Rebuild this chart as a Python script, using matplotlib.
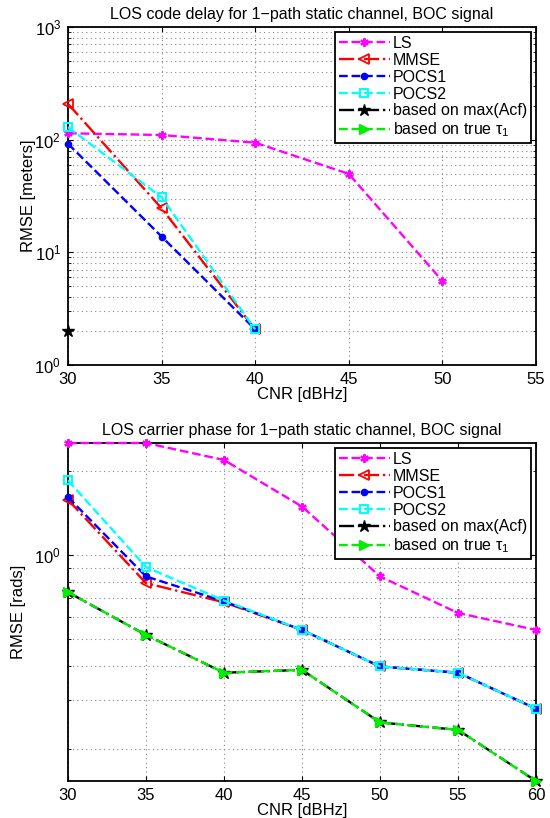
import matplotlib
matplotlib.use("Agg")
import matplotlib.pyplot as plt
from matplotlib.ticker import NullFormatter

plt.rcParams['font.family'] = ['Liberation Sans', 'DejaVu Sans']
plt.rcParams['font.size'] = 11
plt.rcParams['mathtext.fontset'] = 'custom'
plt.rcParams['mathtext.rm'] = 'Liberation Sans'
plt.rcParams['mathtext.it'] = 'Liberation Sans'

# code delay (top)
cnr_top = [30, 35, 40, 45, 50]
ls_top = [114, 110, 94, 49.7, 5.57]
mmse_top = [208, 24.6, 2.07]
pocs1_top = [92, 13.8, 2.07]
pocs2_top = [129, 30.8, 2.07]
acf_top = [2.0]

# carrier phase (bottom)
cnr_bot = [30, 35, 40, 45, 50, 55, 60]
ls_bot = [2.52, 2.52, 2.19, 1.49, 0.836, 0.618, 0.537]
mmse_bot = [1.575, 0.791, 0.675, 0.537, 0.397, 0.377, 0.28]
pocs1_bot = [1.61, 0.836, 0.68, 0.537, 0.397, 0.377, 0.28]
pocs2_bot = [1.85, 0.903, 0.685, 0.537, 0.397, 0.377, 0.28]
acf_bot = [0.734, 0.515, 0.377, 0.386, 0.25, 0.235, 0.154]
true_bot = [0.734, 0.515, 0.377, 0.386, 0.25, 0.235, 0.154]

labels = ['LS', 'MMSE', 'POCS1', 'POCS2', 'based on max(Acf)',
          r'based on true $\tau_1$']

fig = plt.figure(figsize=(5.5, 8.18), dpi=100)
W, H = 550.0, 818.0
ax1 = fig.add_axes([68 / W, 1 - 365 / H, 468 / W, 338 / H])
ax2 = fig.add_axes([68 / W, 1 - 781 / H, 468 / W, 338 / H])

gridstyle = dict(ls=(0, (1, 3)), color='#888888', lw=0.8)


def draw(ax, x, ls, mm, p1, p2, acf, tr):
    lw = 1.7
    kw = dict(lw=lw, clip_on=False, zorder=3)
    ax.plot(x[:len(ls)], ls, '--', color='magenta', marker=(6, 2, 0), ms=6, mew=1.6, label=labels[0], **kw)
    ax.plot(x[:len(mm)], mm, '-.', color='red', marker='<', mfc='none', ms=7, mew=1.3, label=labels[1], **kw)
    ax.plot(x[:len(p1)], p1, '--', color='blue', marker='o', ms=4.5, label=labels[2], **kw)
    ax.plot(x[:len(p2)], p2, '--', color='cyan', marker='s', mfc='none', ms=6, mew=1.5, label=labels[3], **kw)
    ax.plot(x[:len(acf)], acf, '-.', color='black', marker='*', ms=9, label=labels[4], **kw)
    ax.plot(x[:len(tr)], tr, '--', color='#00ee00', marker='>', ms=7, label=labels[5], **kw)
    ax.set_yscale('log')
    ax.grid(True, which='major', axis='both', **gridstyle)
    ax.grid(True, which='minor', axis='y', **gridstyle)
    ax.tick_params(which='both', direction='in', top=True, right=True, labelsize=12)
    ax.tick_params(axis='y', pad=5)
    ax.tick_params(axis='x', pad=5)
    ax.yaxis.set_minor_formatter(NullFormatter())
    for s in ax.spines.values():
        s.set_linewidth(1.3)
    ax.set_xlabel('CNR [dBHz]', fontsize=12, labelpad=0)
    leg = ax.legend(loc='upper right', fancybox=False, edgecolor='black',
                    framealpha=1, handlelength=3.2, fontsize=11.5,
                    borderaxespad=0.3, labelspacing=0.12, handletextpad=0.2,
                    borderpad=0.25)
    leg.get_frame().set_linewidth(1.3)
    return ax


draw(ax1, cnr_top, ls_top, mmse_top, pocs1_top, pocs2_top, acf_top, [])
ax1.set_xlim(30, 55)
ax1.set_ylim(1, 1000)
ax1.set_xticks([30, 35, 40, 45, 50, 55])
ax1.set_ylabel('RMSE [meters]', fontsize=12, labelpad=-1)
ax1.set_title('LOS code delay for 1\u2212path static channel, BOC signal', fontsize=11.5, pad=6)

draw(ax2, cnr_bot, ls_bot, mmse_bot, pocs1_bot, pocs2_bot, acf_bot, true_bot)
ax2.set_xlim(30, 60)
ax2.set_ylim(0.154, 2.52)
ax2.set_xticks([30, 35, 40, 45, 50, 55, 60])
ax2.set_ylabel('RMSE [rads]', fontsize=12, labelpad=6)
ax2.set_title('LOS carrier phase for 1\u2212path static channel, BOC signal', fontsize=11.5, pad=6)

fig.savefig('out.png', dpi=100)
